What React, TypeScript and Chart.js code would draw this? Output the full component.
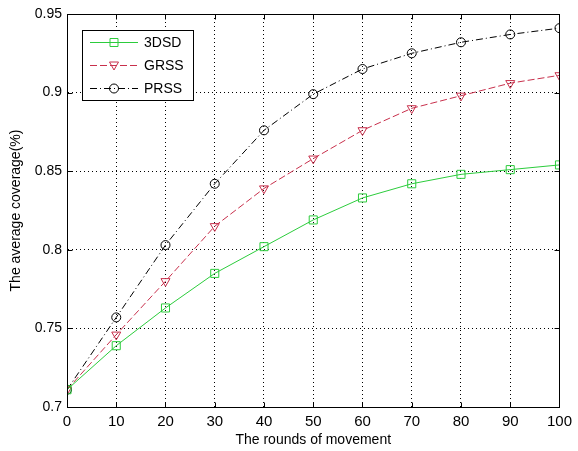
import React, { useEffect, useRef } from "react";
import { Chart, registerables } from "chart.js";

Chart.register(...registerables);

const rounds = [0, 10, 20, 30, 40, 50, 60, 70, 80, 90, 100];
const series3DSD = [0.711, 0.739, 0.763, 0.785, 0.802, 0.819, 0.833, 0.842, 0.848, 0.851, 0.854];
const seriesGRSS = [0.711, 0.746, 0.78, 0.815, 0.839, 0.858, 0.876, 0.89, 0.898, 0.906, 0.911];
const seriesPRSS = [0.711, 0.757, 0.803, 0.842, 0.876, 0.899, 0.915, 0.925, 0.932, 0.937, 0.941];

const xTicks = [0, 10, 20, 30, 40, 50, 60, 70, 80, 90, 100];
const yTicks = [0.7, 0.75, 0.8, 0.85, 0.9, 0.95];
const yTickLabels = ["0.7", "0.75", "0.8", "0.85", "0.9", "0.95"];

const names = ["3DSD", "GRSS", "PRSS"];
const colors = ["#2ccc3c", "#c8304c", "#000000"];
const dashes: number[][] = [[], [7, 3], [7, 3, 1, 3]];
const markers = ["rect", "triangle", "circle"];

const FONT = "'Liberation Sans', Arial, sans-serif";

function drawMarker(ctx: CanvasRenderingContext2D, kind: string, x: number, y: number) {
  ctx.beginPath();
  if (kind === "rect") {
    ctx.rect(x - 4, y - 4, 8, 8);
  } else if (kind === "triangle") {
    ctx.moveTo(x - 4.5, y - 3.5);
    ctx.lineTo(x + 4.5, y - 3.5);
    ctx.lineTo(x, y + 4.5);
    ctx.closePath();
  } else {
    ctx.arc(x, y, 4.5, 0, Math.PI * 2);
  }
  ctx.stroke();
}

const framePlugin = {
  id: "matlabFrame",
  afterDatasetsDraw(chart: any) {
    const { ctx, chartArea: a, scales } = chart;
    ctx.save();
    ctx.strokeStyle = "#000";
    ctx.lineWidth = 1;
    ctx.setLineDash([]);
    const l = Math.round(a.left) + 0.5;
    const r = Math.round(a.right) + 0.5;
    const t = Math.round(a.top) + 0.5;
    const b = Math.round(a.bottom) + 0.5;
    ctx.strokeRect(l, t, r - l, b - t);
    const L = 5;
    ctx.beginPath();
    xTicks.forEach((v) => {
      const px = Math.round(scales.x.getPixelForValue(v)) + 0.5;
      ctx.moveTo(px, b);
      ctx.lineTo(px, b - L);
      ctx.moveTo(px, t);
      ctx.lineTo(px, t + L);
    });
    yTicks.forEach((v) => {
      const py = Math.round(scales.y.getPixelForValue(v)) + 0.5;
      ctx.moveTo(l, py);
      ctx.lineTo(l + L, py);
      ctx.moveTo(r, py);
      ctx.lineTo(r - L, py);
    });
    ctx.stroke();

    // legend
    const bx = 82.5, by = 30.5, bw = 111, bh = 70;
    ctx.fillStyle = "#fff";
    ctx.fillRect(bx, by, bw, bh);
    ctx.strokeRect(bx, by, bw, bh);
    const rowsY = [42.5, 65.5, 88.5];
    ctx.font = `14px ${FONT}`;
    ctx.textBaseline = "middle";
    ctx.textAlign = "left";
    names.forEach((n, i) => {
      const y = rowsY[i];
      ctx.strokeStyle = colors[i];
      ctx.setLineDash(dashes[i]);
      ctx.beginPath();
      ctx.moveTo(90, y);
      ctx.lineTo(138, y);
      ctx.stroke();
      ctx.setLineDash([]);
      drawMarker(ctx, markers[i], 114, y);
      ctx.fillStyle = "#000";
      ctx.fillText(n, 144, y + 1);
    });
    ctx.restore();
  },
};

export default function App() {
  const ref = useRef<HTMLCanvasElement | null>(null);
  useEffect(() => {
    document.body.style.margin = "0";
    const canvas = ref.current;
    if (!canvas) return;
    Chart.defaults.font.family = FONT;
    const seriesList = [series3DSD, seriesGRSS, seriesPRSS];
    const chart = new Chart(canvas, {
      type: "line",
      data: {
        datasets: seriesList.map((s, i) => ({
          label: names[i],
          data: rounds.map((x, j) => ({ x, y: s[j] })),
          borderColor: colors[i],
          borderWidth: 1,
          borderDash: dashes[i],
          pointStyle: markers[i] as any,
          pointRotation: markers[i] === "triangle" ? 180 : 0,
          pointRadius: markers[i] === "rect" ? 5.7 : markers[i] === "triangle" ? 5.2 : 4.5,
          pointBorderColor: colors[i],
          pointBackgroundColor: "rgba(0,0,0,0)",
          pointBorderWidth: 1,
          tension: 0,
          fill: false,
        })),
      },
      options: {
        animation: false,
        responsive: false,
        devicePixelRatio: 1,
        layout: { padding: { left: 0, right: 13, top: 14, bottom: 0 } },
        plugins: {
          legend: { display: false },
          tooltip: { enabled: false },
        },
        scales: {
          x: {
            type: "linear",
            min: 0,
            max: 100,
            afterBuildTicks: (s: any) => {
              s.ticks = xTicks.map((v) => ({ value: v }));
            },
            afterFit: (s: any) => {
              s.height = 44;
            },
            ticks: {
              color: "#000",
              font: { size: 15, family: FONT },
              padding: 6,
              maxRotation: 0,
              callback: (v: any) => String(v),
            },
            grid: { color: "#000", lineWidth: 1, drawTicks: false },
            border: { display: true, color: "#000", dash: [1, 3] },
            title: {
              display: true,
              text: "The rounds of movement",
              color: "#000",
              font: { size: 14, family: FONT },
              padding: { top: 0, bottom: 2 },
            },
          },
          y: {
            type: "linear",
            min: 0.7,
            max: 0.95,
            afterBuildTicks: (s: any) => {
              s.ticks = yTicks.map((v) => ({ value: v }));
            },
            afterFit: (s: any) => {
              s.width = 67;
            },
            ticks: {
              color: "#000",
              font: { size: 14, family: FONT },
              padding: 5,
              callback: (v: any) => {
                const i = yTicks.findIndex((t) => Math.abs(t - v) < 1e-6);
                return i >= 0 ? yTickLabels[i] : "";
              },
            },
            grid: { color: "#000", lineWidth: 1, drawTicks: false },
            border: { display: true, color: "#000", dash: [1, 3] },
            title: {
              display: true,
              text: "The average coverage(%)",
              color: "#000",
              font: { size: 14, family: FONT },
              padding: { top: 8, bottom: 0 },
            },
          },
        },
      },
      plugins: [framePlugin],
    } as any);
    return () => chart.destroy();
  }, []);
  return (
    <div style={{ position: "absolute", left: 0, top: 0, width: 578, height: 451, background: "#fff" }}>
      <canvas ref={ref} width={578} height={451} style={{ display: "block" }} />
    </div>
  );
}
